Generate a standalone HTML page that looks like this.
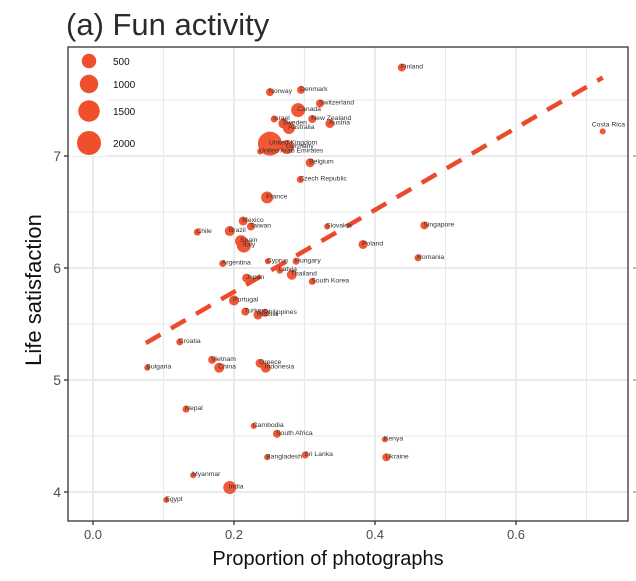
<!DOCTYPE html>
<html><head><meta charset="utf-8"><style>
html,body{margin:0;padding:0;background:#fff;}
svg{display:block;font-family:"Liberation Sans",sans-serif;}
</style></head><body>
<svg id="chart" width="636" height="581" viewBox="0 0 636 581" xmlns="http://www.w3.org/2000/svg">
<text x="66" y="35" font-size="31" fill="#2b2b2b">(a) Fun activity</text>
<rect x="68" y="47" width="560" height="474" fill="#fff"/>
<g id="grid"></g>
<g id="reg"></g>
<g id="pts"></g>
<g id="legend"></g>
<rect x="68" y="47" width="560" height="474" fill="none" stroke="#333" stroke-width="1.3"/>
<g id="axes"></g>
<text x="328" y="565" font-size="20" fill="#111" text-anchor="middle">Proportion of photographs</text>
<text transform="translate(41,290) rotate(-90)" font-size="22" fill="#111" text-anchor="middle">Life satisfaction</text>
</svg>
<script>
const countries=["Finland","Costa Rica","Norway","Denmark","Switzerland","Canada","Israel","New Zealand","Sweden","Austria","Australia","United Kingdom","Germany","United Arab Emirates","Belgium","Czech Republic","France","Mexico","Taiwan","Brazil","Chile","Spain","Italy","Slovakia","Singapore","Poland","Romania","Argentina","Cyprus","Hungary","Latvia","Thailand","South Korea","Japan","Portugal","Turkey","Philippines","Russia","Croatia","Bulgaria","Vietnam","China","Greece","Indonesia","Nepal","Cambodia","South Africa","Kenya","Bangladesh","Sri Lanka","Ukraine","Myanmar","India","Egypt"];
const propValues=[.438,.723,.251,.295,.322,.291,.257,.311,.270,.336,.278,.251,.275,.237,.308,.294,.247,.213,.224,.194,.148,.210,.214,.332,.470,.383,.461,.184,.248,.288,.265,.282,.311,.218,.200,.216,.244,.234,.123,.077,.169,.179,.237,.245,.132,.228,.261,.414,.247,.301,.416,.142,.194,.104];
const lifeValues=[7.79,7.22,7.57,7.59,7.47,7.41,7.33,7.33,7.29,7.29,7.25,7.11,7.08,7.04,6.94,6.79,6.63,6.42,6.37,6.33,6.32,6.24,6.20,6.37,6.38,6.21,6.09,6.04,6.06,6.06,5.98,5.94,5.88,5.91,5.71,5.61,5.60,5.58,5.34,5.11,5.18,5.11,5.15,5.11,4.74,4.59,4.52,4.47,4.31,4.33,4.31,4.15,4.04,3.93];
const photoCounts=[50,6,50,50,50,449,22,50,138,89,271,2000,449,6,89,22,271,89,50,138,22,271,449,6,50,89,22,22,6,22,22,138,22,89,138,50,50,89,22,6,50,138,89,138,22,6,50,6,6,22,50,6,354,6];
const xTicks=[0,0.2,0.4,0.6];
const xTickLabels=["0.0","0.2","0.4","0.6"];
const yTicks=[4,5,6,7];
const legendCounts=[500,1000,1500,2000];
const regX=[0.075,0.723];
const regY=[5.33,7.70];

const NS="http://www.w3.org/2000/svg";
const xs=v=>93+705*v, ys=v=>492-112*(v-4), rs=n=>2.5+9.5*Math.sqrt(n/2000);
function mk(tag,attrs,parent,txt){const e=document.createElementNS(NS,tag);for(const k in attrs)e.setAttribute(k,attrs[k]);if(txt!==undefined)e.textContent=txt;parent.appendChild(e);return e;}
const grid=document.getElementById('grid');
for(let v=0;v<=0.75;v+=0.1){const l=mk('line',{x1:xs(v),x2:xs(v),y1:47,y2:521,stroke:'#e6eaea','stroke-width':Math.round(v*10)%2===0?1.8:1.1},grid);

}
for(let v=3.5;v<=8;v+=0.5){const y=ys(v);if(y<47||y>521)continue;const l=mk('line',{x1:68,x2:628,y1:y,y2:y,stroke:'#e6eaea','stroke-width':v%1===0?1.8:1.1},grid);

}
const reg=document.getElementById('reg');
const rl=mk('line',{x1:xs(regX[0]),y1:ys(regY[0]),x2:xs(regX[1]),y2:ys(regY[1]),stroke:'#ec4a2c','stroke-width':4.5,'stroke-dasharray':'17 12'},reg);


const pts=document.getElementById('pts');
countries.forEach((c,i)=>{const cx=xs(propValues[i]),cy=ys(lifeValues[i]);
const ci=mk('circle',{cx:cx,cy:cy,r:rs(photoCounts[i]),fill:'#ef4f2b','fill-opacity':0.95},pts);

});
countries.forEach((c,i)=>{let cx=xs(propValues[i])-1,cy=ys(lifeValues[i])+1;
const attrs={x:cx,y:cy,'font-size':6.8,fill:'#333'};
if(cx>560){attrs.x=625;attrs.y=cy-6;attrs['text-anchor']='end';}
const t=mk('text',attrs,pts,c);

});
const lg=document.getElementById('legend');
const bg=mk('rect',{x:69,y:48,width:38,height:108,fill:'#fff'},lg);


const lgY=[61,84,111,143];
legendCounts.forEach((n,i)=>{const c=mk('circle',{cx:89,cy:lgY[i],r:rs(n),fill:'#ef4f2b'},lg);


const t=mk('text',{x:113,y:lgY[i]+4,'font-size':10,fill:'#111'},lg,String(n));

});
const ax=document.getElementById('axes');
xTicks.forEach((v,i)=>{const l=mk('line',{x1:xs(v),x2:xs(v),y1:521,y2:525,stroke:'#333','stroke-width':1.3},ax);


const t=mk('text',{x:xs(v),y:539,'font-size':13,fill:'#4d4d4d','text-anchor':'middle'},ax,xTickLabels[i]);

});
yTicks.forEach(v=>{const l=mk('line',{x1:64,x2:68,y1:ys(v),y2:ys(v),stroke:'#333','stroke-width':1.3},ax);


const t=mk('text',{x:61,y:ys(v)+5,'font-size':14,fill:'#4d4d4d','text-anchor':'end'},ax,String(v));


const m=mk('line',{x1:633,x2:636,y1:ys(v),y2:ys(v),stroke:'#999','stroke-width':1.3},ax);

});
</script>
</body></html>
